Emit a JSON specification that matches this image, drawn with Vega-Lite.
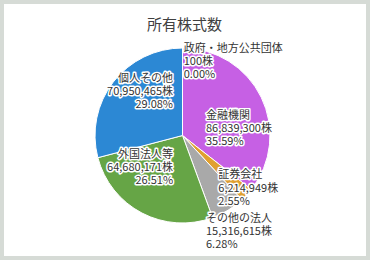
{
  "$schema": "https://vega.github.io/schema/vega-lite/v6.json",
  "width": 362,
  "height": 252,
  "autosize": "none",
  "padding": 4,
  "background": "#d6dbd6",
  "title": {"text": "所有株式数", "fontSize": 15, "font": "Noto Sans CJK JP", "fontWeight": "normal", "color": "#404040", "anchor": "middle", "offset": -29, "dx": -0.5},
  "config": {"view": {"stroke": null}},
  "data": {"values": [
    {"name": "政府・地方公共団体", "shares": 100, "pct": 0.00, "order": 1},
    {"name": "金融機関", "shares": 86839300, "pct": 35.59, "order": 2},
    {"name": "証券会社", "shares": 6214949, "pct": 2.55, "order": 3},
    {"name": "その他の法人", "shares": 15316615, "pct": 6.28, "order": 4},
    {"name": "外国法人等", "shares": 64680171, "pct": 26.51, "order": 5},
    {"name": "個人その他", "shares": 70950465, "pct": 29.08, "order": 6}
  ]},
  "transform": [
    {"calculate": "datum.name + '\\n' + format(datum.shares, ',') + '株\\n' + format(datum.pct, '.2f') + '%'", "as": "label"}
  ],
  "layer": [
    {"mark": {"type": "rect", "fill": "#ffffff"}, "encoding": {}},
    {
      "encoding": {
        "theta": {"field": "shares", "type": "quantitative", "stack": true},
        "order": {"field": "order", "type": "quantitative"}
      },
      "layer": [
        {
          "mark": {"type": "arc", "outerRadius": 87.5, "stroke": "#ffffff", "strokeWidth": 1, "xOffset": -2.5, "yOffset": 5.5},
          "encoding": {
            "color": {"field": "name", "type": "nominal", "legend": null,
              "scale": {"domain": ["政府・地方公共団体", "金融機関", "証券会社", "その他の法人", "外国法人等", "個人その他"],
                        "range": ["#c660e4", "#c660e4", "#e0a030", "#a9a9a9", "#66a546", "#2c88d4"]}}
          }
        },
        {"mark": {"type": "text", "radius": 73.5, "dx": -1.3, "dy": -7.5, "align": "left", "baseline": "middle", "lineBreak": "\n", "lineHeight": 13, "font": "Noto Sans CJK JP", "fontSize": 11, "fill": "#ffffff", "stroke": "#ffffff", "strokeWidth": 3, "strokeJoin": "round"},
         "encoding": {"text": {"condition": {"test": "datum.name === '政府・地方公共団体'", "field": "label"}, "value": ""}}},
        {"mark": {"type": "text", "radius": 73.5, "dx": -1.3, "dy": -7.5, "align": "left", "baseline": "middle", "lineBreak": "\n", "lineHeight": 13, "font": "Noto Sans CJK JP", "fontSize": 11, "fill": "#333333"},
         "encoding": {"text": {"condition": {"test": "datum.name === '政府・地方公共団体'", "field": "label"}, "value": ""}}},

        {"mark": {"type": "text", "radius": 24, "dx": -0.6, "dy": -3.5, "align": "left", "baseline": "middle", "lineBreak": "\n", "lineHeight": 13, "font": "Noto Sans CJK JP", "fontSize": 11, "fill": "#ffffff", "stroke": "#ffffff", "strokeWidth": 3, "strokeJoin": "round"},
         "encoding": {"text": {"condition": {"test": "datum.name === '金融機関'", "field": "label"}, "value": ""}}},
        {"mark": {"type": "text", "radius": 24, "dx": -0.6, "dy": -3.5, "align": "left", "baseline": "middle", "lineBreak": "\n", "lineHeight": 13, "font": "Noto Sans CJK JP", "fontSize": 11, "fill": "#333333"},
         "encoding": {"text": {"condition": {"test": "datum.name === '金融機関'", "field": "label"}, "value": ""}}},

        {"mark": {"type": "text", "radius": 60, "dx": -10.8, "dy": 4.8, "align": "left", "baseline": "middle", "lineBreak": "\n", "lineHeight": 13.5, "font": "Noto Sans CJK JP", "fontSize": 11, "fill": "#ffffff", "stroke": "#ffffff", "strokeWidth": 3, "strokeJoin": "round"},
         "encoding": {"text": {"condition": {"test": "datum.name === '証券会社'", "field": "label"}, "value": ""}}},
        {"mark": {"type": "text", "radius": 60, "dx": -10.8, "dy": 4.8, "align": "left", "baseline": "middle", "lineBreak": "\n", "lineHeight": 13.5, "font": "Noto Sans CJK JP", "fontSize": 11, "fill": "#333333"},
         "encoding": {"text": {"condition": {"test": "datum.name === '証券会社'", "field": "label"}, "value": ""}}},

        {"mark": {"type": "text", "radius": 105, "dx": -33.7, "dy": -0.7, "align": "left", "baseline": "middle", "lineBreak": "\n", "lineHeight": 13, "font": "Noto Sans CJK JP", "fontSize": 11, "fill": "#ffffff", "stroke": "#ffffff", "strokeWidth": 3, "strokeJoin": "round"},
         "encoding": {"text": {"condition": {"test": "datum.name === 'その他の法人'", "field": "label"}, "value": ""}}},
        {"mark": {"type": "text", "radius": 105, "dx": -33.7, "dy": -0.7, "align": "left", "baseline": "middle", "lineBreak": "\n", "lineHeight": 13, "font": "Noto Sans CJK JP", "fontSize": 11, "fill": "#333333"},
         "encoding": {"text": {"condition": {"test": "datum.name === 'その他の法人'", "field": "label"}, "value": ""}}},

        {"mark": {"type": "text", "radius": 36, "dx": 4.7, "dy": -6.9, "align": "right", "baseline": "middle", "lineBreak": "\n", "lineHeight": 13, "font": "Noto Sans CJK JP", "fontSize": 11, "fill": "#ffffff", "stroke": "#ffffff", "strokeWidth": 3, "strokeJoin": "round"},
         "encoding": {"text": {"condition": {"test": "datum.name === '外国法人等'", "field": "label"}, "value": ""}}},
        {"mark": {"type": "text", "radius": 36, "dx": 4.7, "dy": -6.9, "align": "right", "baseline": "middle", "lineBreak": "\n", "lineHeight": 13, "font": "Noto Sans CJK JP", "fontSize": 11, "fill": "#333333"},
         "encoding": {"text": {"condition": {"test": "datum.name === '外国法人等'", "field": "label"}, "value": ""}}},

        {"mark": {"type": "text", "radius": 48, "dx": 26, "dy": -22, "align": "right", "baseline": "middle", "lineBreak": "\n", "lineHeight": 13, "font": "Noto Sans CJK JP", "fontSize": 11, "fill": "#ffffff", "stroke": "#ffffff", "strokeWidth": 3, "strokeJoin": "round"},
         "encoding": {"text": {"condition": {"test": "datum.name === '個人その他'", "field": "label"}, "value": ""}}},
        {"mark": {"type": "text", "radius": 48, "dx": 26, "dy": -22, "align": "right", "baseline": "middle", "lineBreak": "\n", "lineHeight": 13, "font": "Noto Sans CJK JP", "fontSize": 11, "fill": "#333333"},
         "encoding": {"text": {"condition": {"test": "datum.name === '個人その他'", "field": "label"}, "value": ""}}}
      ]
    }
  ]
}
